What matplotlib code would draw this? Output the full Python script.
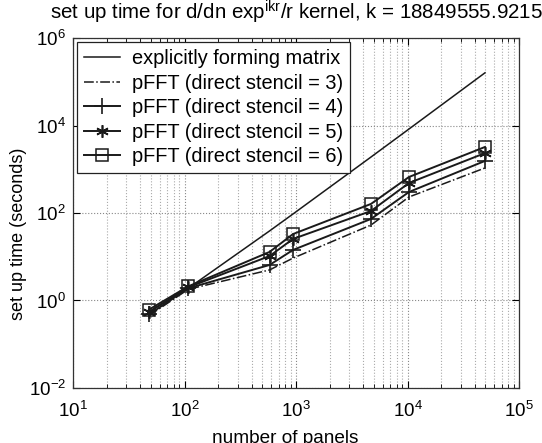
import numpy as np
import matplotlib.pyplot as plt
from matplotlib.ticker import LogLocator, NullLocator, NullFormatter

plt.rcParams['font.family'] = ['Liberation Sans', 'DejaVu Sans']
plt.rcParams['mathtext.fontset'] = 'custom'
plt.rcParams['mathtext.rm'] = 'Liberation Sans'
plt.rcParams['mathtext.it'] = 'Liberation Sans:italic'
plt.rcParams['mathtext.default'] = 'regular'

# number of panels
panels = [48, 108, 580, 940, 4700, 10300, 49500]

# set up time (seconds)
t_explicit = [0.55, 1.9, 39, 95, 1900, 8300, 160000]
t_stencil3 = [0.45, 1.8, 5.0, 9.3, 53, 232, 1070]
t_stencil4 = [0.48, 1.9, 6.5, 14.3, 73, 302, 1550]
t_stencil5 = [0.55, 2.0, 10.4, 25.5, 111, 485, 2340]
t_stencil6 = [0.62, 2.1, 12.9, 33, 161, 665, 3230]

labels = ['explicitly forming matrix',
          'pFFT (direct stencil = 3)',
          'pFFT (direct stencil = 4)',
          'pFFT (direct stencil = 5)',
          'pFFT (direct stencil = 6)']

fig = plt.figure(figsize=(5.42, 4.43), dpi=100)
ax = fig.add_axes([0.1347, 0.1242, 0.8229, 0.79])

ink = '#1a1a1a'
ax.plot(panels, t_explicit, '-', color=ink, lw=1.1, label=labels[0])
ax.plot(panels, t_stencil3, '-.', color=ink, lw=1.1, label=labels[1])
ax.plot(panels, t_stencil4, '-', color=ink, lw=1.4, marker='+', ms=11, mew=1.2, label=labels[2])
ax.plot(panels, t_stencil5, '-', color=ink, lw=1.4, marker=(6, 2, 0), ms=9, mew=1.2, label=labels[3])
ax.plot(panels, t_stencil6, '-', color=ink, lw=1.4, marker='s', ms=8, mew=1.1,
        mfc='none', label=labels[4])

ax.set_xscale('log')
ax.set_yscale('log')
ax.set_xlim(10, 1e5)
ax.set_ylim(1e-2, 1e6)

ax.xaxis.set_major_locator(LogLocator(base=10, numticks=10))
ax.xaxis.set_minor_locator(LogLocator(base=10, subs=np.arange(2, 10), numticks=20))
ax.xaxis.set_minor_formatter(NullFormatter())
ax.set_yticks([1e-2, 1e0, 1e2, 1e4, 1e6])
ax.yaxis.set_minor_locator(NullLocator())

ax.tick_params(which='both', direction='in', top=True, right=True, labelsize=13.5)
ax.tick_params(axis='x', pad=9)
ax.tick_params(axis='y', pad=5)
ax.tick_params(which='major', length=5)
ax.tick_params(which='minor', length=3)

ax.grid(True, which='major', axis='both', linestyle=':', color='#888888', lw=0.8)
ax.grid(True, which='minor', axis='x', linestyle=':', color='#aaaaaa', lw=0.8)
for s in ax.spines.values():
    s.set_linewidth(0.9)
    s.set_color('#333333')

ax.set_title(r'set up time for d/dn exp$^{ikr}$/r kernel, k = 18849555.9215',
             fontsize=14.8, pad=13)
ax.set_xlabel('number of panels', fontsize=13.7)
ax.xaxis.set_label_coords(0.475, -0.12, transform=ax.transAxes)
ax.xaxis.label.set_va('top')
ax.set_ylabel('set up time (seconds)', fontsize=13)
ax.yaxis.set_label_coords(-0.103, 0.44, transform=ax.transAxes)

leg = ax.legend(loc='upper left', fontsize=14.4, frameon=True, fancybox=False,
                edgecolor='#222222', framealpha=1, borderaxespad=0.2,
                labelspacing=0.28, handlelength=1.8, handletextpad=0.6,
                borderpad=0.35)
leg.get_frame().set_linewidth(0.9)

fig.savefig('out.png', dpi=100)
